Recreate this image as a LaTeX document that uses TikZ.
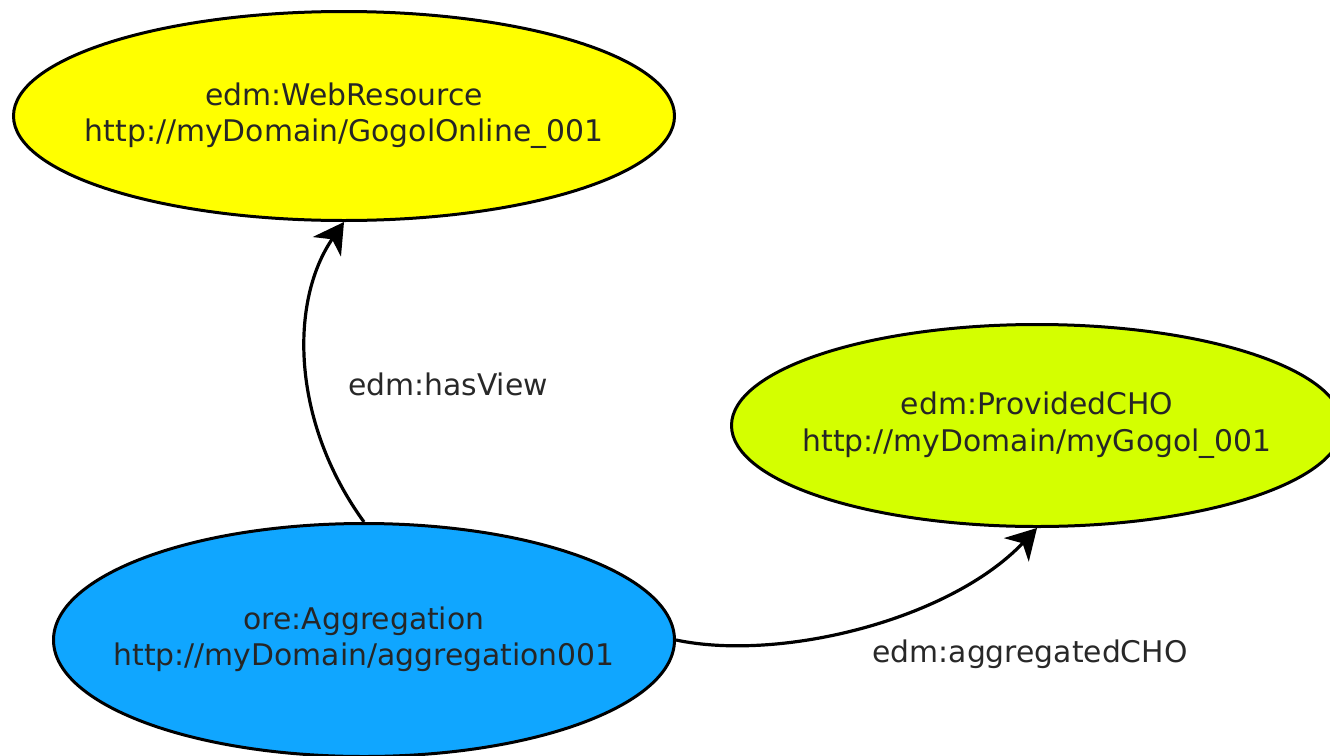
\documentclass[tikz,border=0pt]{standalone}
\usepackage{fontspec}
\setmainfont{DejaVu Sans}
\usetikzlibrary{shapes.geometric,arrows.meta}
\definecolor{webyellow}{RGB}{255,255,0}
\definecolor{chogreen}{RGB}{212,255,0}
\definecolor{aggblue}{RGB}{16,166,255}
\definecolor{labelgray}{RGB}{40,40,40}
\newcommand{\twolines}[2]{\makebox[0pt][c]{\begin{tabular}{@{}c@{}}#1\\#2\end{tabular}}}
\tikzset{
  res/.style={ellipse, draw=black, line width=3pt, inner sep=0pt,
    font=\fontsize{29.8}{36.5}\selectfont, text=black!85},
  rel/.style={draw=black, line width=3.2pt,
    -{Stealth[length=30pt,width=34pt,inset=9pt]}},
  rellabel/.style={font=\fontsize{29.8}{36.5}\selectfont, text=labelgray, anchor=base, inner sep=0pt}
}
\begin{document}
\begin{tikzpicture}[x=1pt,y=-1pt]
\useasboundingbox (0,0) rectangle (1330,755);
\node[res, fill=webyellow, minimum width=661pt, minimum height=209pt] (web) at (344,116)
  {\twolines{edm:WebResource}{http://myDomain/GogolOnline\_001}};
\node[res, fill=chogreen, minimum width=611pt, minimum height=202pt] (cho) at (1037,425.5)
  {\twolines{edm:ProvidedCHO}{http://myDomain/myGogol\_001}};
\node[res, fill=aggblue, minimum width=621pt, minimum height=233pt] (agg) at (364,640)
  {\twolines{ore:Aggregation}{http://myDomain/aggregation001}};
\draw[rel] (agg.north) .. controls (290,420) and (290,300) .. (web.south);
\draw[rel] (agg.east) .. controls (780,662) and (950,620) .. (cho.south);
\node[rellabel] (lview) at (448,395) {edm:hasView};
\node[rellabel] (lcho) at (1030,662) {edm:aggregatedCHO};
\end{tikzpicture}
\end{document}
